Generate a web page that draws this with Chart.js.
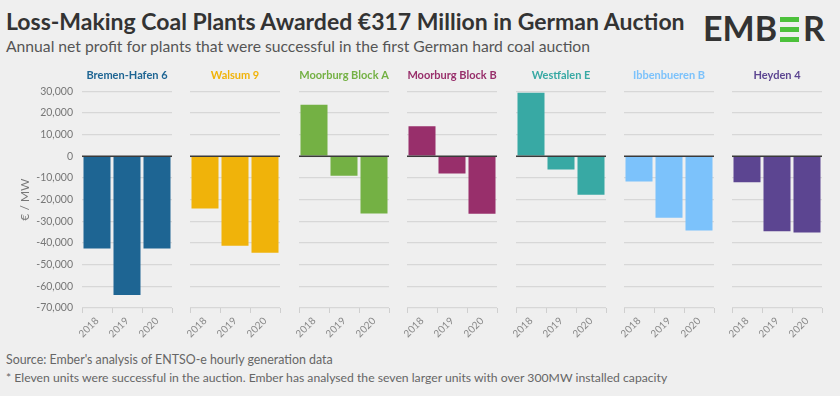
<!DOCTYPE html>
<html>
<head>
<meta charset="utf-8">
<script src="https://cdn.jsdelivr.net/npm/chart.js@4.4.1/dist/chart.umd.min.js"></script>
<style>
  html, body { margin: 0; padding: 0; }
  body { width: 840px; height: 396px; background: #efefef; position: relative; overflow: hidden; font-family: Lato, sans-serif; }
  #title { position: absolute; left: 6px; top: 7px; font-size: 23px; font-weight: bold; color: #333; white-space: nowrap; }
  #subtitle { position: absolute; left: 6px; top: 37px; font-size: 15.7px; color: #555; white-space: nowrap; }
  #logo { position: absolute; left: 703px; top: 7px; font-size: 34px; font-weight: bold; color: #333; letter-spacing: 0; white-space: nowrap; }
  #logo .bars { display: inline-block; width: 19px; height: 25px; margin: 0 4px 0 3px; position: relative; vertical-align: -1px; }
  #logo .bars i { position: absolute; left: 0; width: 19px; height: 5px; background: #4cc13b; }
  #source { position: absolute; left: 6px; top: 352px; font-size: 12.4px; color: #666; white-space: nowrap; }
  #note { position: absolute; left: 6px; top: 370px; font-size: 12.2px; color: #666; white-space: nowrap; }
  .panel { position: absolute; top: 62px; height: 290px; }
</style>
</head>
<body>
<div id="title">Loss-Making Coal Plants Awarded €317 Million in German Auction</div>
<div id="subtitle">Annual net profit for plants that were successful in the first German hard coal auction</div>
<div id="logo">EMB<span class="bars"><i style="top:0"></i><i style="top:10px"></i><i style="top:20px"></i></span>R</div>
<div id="charts"></div>
<div id="source">Source: Ember's analysis of ENTSO-e hourly generation data</div>
<div id="note">* Eleven units were successful in the auction. Ember has analysed the seven larger units with over 300MW installed capacity</div>

<script>
// Data (€ / MW)
const years = ['2018', '2019', '2020'];
const plants = ['Bremen-Hafen 6', 'Walsum 9', 'Moorburg Block A', 'Moorburg Block B', 'Westfalen E', 'Ibbenbueren B', 'Heyden 4'];
const colors = ['#1e6593', '#f0b30a', '#74b144', '#982f6b', '#38a9a4', '#7cc2fb', '#5c4591'];
const bremenHafen6 = [-42500, -64000, -42500];
const walsum9 = [-24100, -41300, -44500];
const moorburgA = [23800, -9000, -26400];
const moorburgB = [13800, -8000, -26500];
const westfalenE = [29300, -6100, -17800];
const ibbenbuerenB = [-11700, -28400, -34200];
const heyden4 = [-12000, -34600, -35200];
const values = [bremenHafen6, walsum9, moorburgA, moorburgB, westfalenE, ibbenbuerenB, heyden4];
const yTicks = [30000, 20000, 10000, 0, -10000, -20000, -30000, -40000, -50000, -60000, -70000];

// Draw the zero line on top of the bars
const zeroLine = {
    id: 'zeroLine',
    afterDatasetsDraw(chart) {
        const y = chart.scales.y.getPixelForValue(0);
        const ctx = chart.ctx;
        ctx.save();
        ctx.strokeStyle = '#3a3a3a';
        ctx.lineWidth = 1.5;
        ctx.beginPath();
        ctx.moveTo(chart.chartArea.left, y);
        ctx.lineTo(chart.chartArea.right, y);
        ctx.stroke();
        ctx.restore();
    }
};

const plotWidth = 90;
const pitch = 108.4;
const container = document.getElementById('charts');

plants.forEach((name, i) => {
    const first = i === 0;
    const plotLeft = 82 + i * pitch;
    const div = document.createElement('div');
    div.className = 'panel';
    const padL = first ? 0 : 12;
    const axisW = first ? 82 : 0;
    const left = plotLeft - axisW - padL;
    const width = axisW + padL + plotWidth + 12;
    div.style.left = left + 'px';
    div.style.width = width + 'px';
    const canvas = document.createElement('canvas');
    div.appendChild(canvas);
    container.appendChild(div);

    new Chart(canvas.getContext('2d'), {
        type: 'bar',
        data: {
            labels: years,
            datasets: [{
                label: name,
                data: values[i],
                backgroundColor: colors[i],
                borderWidth: 0,
                categoryPercentage: 1,
                barPercentage: 0.9
            }]
        },
        options: {
            responsive: true,
            maintainAspectRatio: false,
            animation: false,
            layout: { padding: { left: padL, right: 12, top: 0, bottom: 0 } },
            plugins: {
                legend: { display: false },
                tooltip: { enabled: false },
                title: {
                    display: true,
                    text: name,
                    color: colors[i],
                    fullSize: false,
                    font: { family: 'Lato', size: 11, weight: 'bold' },
                    padding: { top: 7, bottom: 9 }
                }
            },
            scales: {
                x: {
                    grid: { drawOnChartArea: false, drawTicks: true, tickLength: 5, color: '#cfcfcf', lineWidth: 1 },
                    border: { display: false },
                    ticks: {
                        color: '#888',
                        font: { family: 'Lato', size: 10 },
                        minRotation: 45,
                        maxRotation: 45,
                        padding: 2
                    },
                    afterFit: (scale) => { scale.height = 44; }
                },
                y: {
                    min: -70000,
                    max: 30000,
                    afterBuildTicks: (scale) => { scale.ticks = yTicks.map(v => ({ value: v })); },
                    grid: { color: '#d7d7d7', lineWidth: 1.3, drawTicks: false },
                    border: { display: false },
                    ticks: {
                        display: first,
                        color: '#777',
                        padding: 9,
                        font: { family: 'Lato', size: 10.5 },
                        callback: (v) => v.toLocaleString('en-US')
                    },
                    title: {
                        display: first,
                        text: '€ / MW',
                        color: '#777',
                        font: { family: 'Lato', size: 12 },
                        padding: { top: 18, bottom: 0 }
                    },
                    afterFit: (scale) => { scale.width = axisW; }
                }
            }
        },
        plugins: [zeroLine]
    });
});
</script>
</body>
</html>
